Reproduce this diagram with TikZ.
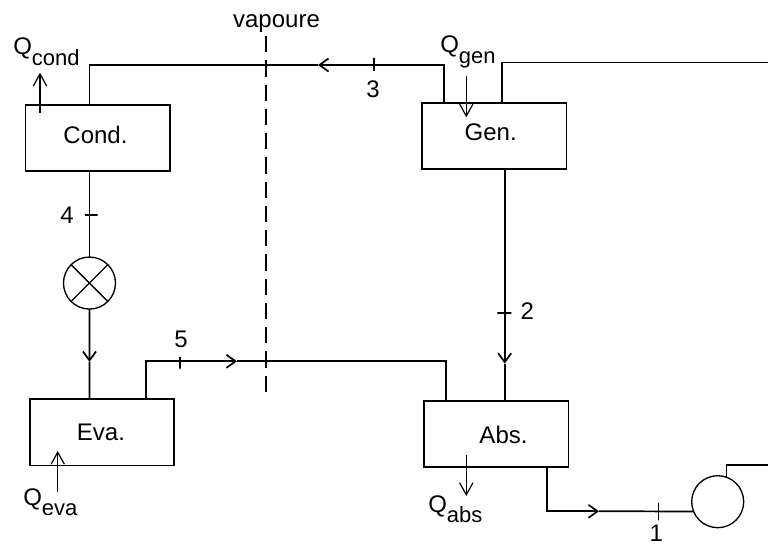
\documentclass[tikz,border=0pt]{standalone}
\usepackage{fontspec}
\setmainfont{Liberation Sans}
\usetikzlibrary{positioning, arrows.meta}

\newcommand{\heatsub}[1]{\raisebox{-8pt}{\fontsize{16.5}{18}\selectfont #1}}

\begin{document}
\begin{tikzpicture}[
        x=0.75pt,
        y=-0.75pt,
        unit/.style={
            rectangle,
            draw,
            line width=1.3pt,
            inner sep=0pt,
            outer sep=0pt,
            minimum width=108.4pt,
            minimum height=49.6pt
        },
        round/.style={
            circle,
            draw,
            line width=1pt,
            inner sep=0pt,
            outer sep=0pt,
            minimum size=39pt
        },
        tick/.style={
            draw,
            line width=0.9pt,
            inner sep=0pt,
            minimum width=0pt,
            minimum height=#1
        },
        crosstick/.style={
            draw,
            line width=0.9pt,
            inner sep=0pt,
            minimum height=0pt,
            minimum width=#1
        },
        caption/.style={
            font=\fontsize{18}{20}\selectfont,
            inner sep=0pt
        },
        heatlabel/.style={
            font=\fontsize{18}{20}\selectfont,
            inner sep=0pt,
            anchor=base west
        },
        pipe/.style={line width=1.3pt},
        arrow/.style={-{Straight Barb[length=6.8pt, width=9.8pt]}, line width=1.3pt},
        heat/.style={-{Straight Barb[length=9pt, width=10pt]}, line width=0.9pt},
        border/.style={line width=1.3pt, dash pattern=on 12.2pt off 6pt}
        ]
        \useasboundingbox (0,0) rectangle (768,545);

        % Units
        \node[unit] at (97.75,138) (cond) {};
        \node[unit, below=171.2pt of cond, xshift=3.2pt] (eva) {};
        \node[unit, right=189pt of cond, yshift=1.35pt] (gen) {};
        \node[unit, below=173.6pt of gen, xshift=1.5pt] (abs) {};

        % Valve and pump
        \node[round, below=64.5pt of cond, xshift=-6.2pt] (valve) {};
        \node[round] at (717.7,501.7) (pump) {};
        \draw[line width=1pt] (valve.45) -- (valve.225);
        \draw[line width=1pt] (valve.135) -- (valve.315);

        % Unit names
        \node[caption] at (95.5,134.5) (condname) {Cond.};
        \node[caption] at (101,432.7) (evaname) {Eva.};
        \node[caption] at (490.7,132) (genname) {Gen.};
        \node[caption] at (503.5,434.7) (absname) {Abs.};

        % Free ends and arrow points
        \coordinate (tipthree) at (318,65);
        \coordinate (tipfour) at (89.5,362);
        \coordinate (tipfive) at (237,361.3);
        \coordinate (tiptwo) at (504.7,363.7);
        \coordinate (tipone) at (599,511.3);
        \coordinate (genright) at (768,62.5);
        \coordinate (pumpright) at (768,465.3);
        \coordinate (genleft) at (444,103);
        \coordinate (genout) at (502.3,103);
        \coordinate (evaout) at (146,399.3);
        \coordinate (absin) at (446.3,401);
        \coordinate (absout) at (546.7,467.3);

        % Refrigerant
        \draw[arrow] (genleft) |- (tipthree);
        \draw[pipe] (tipthree) -| (valve |- cond.north);
        \draw[pipe] (valve |- cond.south) -- (valve);
        \draw[arrow] (valve) -- (tipfour);
        \draw[pipe] (tipfour) -- (valve |- eva.north);
        \draw[arrow] (evaout) |- (tipfive);
        \draw[pipe] (tipfive) -| (absin);

        % Solution
        \draw[arrow] (gen.south -| tiptwo) -- (tiptwo);
        \draw[pipe] (tiptwo) -- (abs.north -| tiptwo);
        \draw[arrow] (absout) |- (tipone);
        \draw[pipe] (tipone) -- (pump.202);
        \draw[pipe] (pump.70) |- (pumpright);
        \draw[pipe] (genout) |- (genright);

        % State points
        \node[tick=9.75pt] at (374,64.5) (tickthree) {};
        \node[crosstick=9.5pt] at (91.3,215) (tickfour) {};
        \node[tick=8.75pt] at (180,362.8) (tickfive) {};
        \node[crosstick=10.5pt] at (504.3,313) (ticktwo) {};
        \node[tick=13.2pt] at (658.3,511.5) (tickone) {};
        \node[caption] at (373,89) (three) {3};
        \node[caption] at (67,215) (four) {4};
        \node[caption] at (181,339) (five) {5};
        \node[caption] at (527.3,311) (two) {2};
        \node[caption] at (656.3,533) (one) {1};

        % Boundary
        \coordinate (vaptop) at (266,36);
        \coordinate (vapbottom) at (266,392);
        \draw[border] (vapbottom) -- (vaptop);
        \node[caption, anchor=base] at (276.5,28) (vapoure) {vapoure};

        % Heat flows
        \coordinate (qcondfrom) at (40,113);
        \coordinate (qcondto) at (40,72.7);
        \coordinate (qgenfrom) at (466.3,76);
        \coordinate (qgento) at (466.3,117.3);
        \coordinate (qevafrom) at (57.7,492);
        \coordinate (qevato) at (57.7,451);
        \coordinate (qabsfrom) at (466.3,454.7);
        \coordinate (qabsto) at (466.3,496);
        \draw[heat] (qcondfrom) -- (qcondto);
        \draw[heat] (qgenfrom) -- (qgento);
        \draw[heat] (qevafrom) -- (qevato);
        \draw[heat] (qabsfrom) -- (qabsto);
        \node[heatlabel] at (13,55) (qcond) {Q\heatsub{cond}};
        \node[heatlabel] at (440,53) (qgen) {Q\heatsub{gen}};
        \node[heatlabel] at (23,505) (qeva) {Q\heatsub{eva}};
        \node[heatlabel] at (428,512) (qabs) {Q\heatsub{abs}};
\end{tikzpicture}
\end{document}
